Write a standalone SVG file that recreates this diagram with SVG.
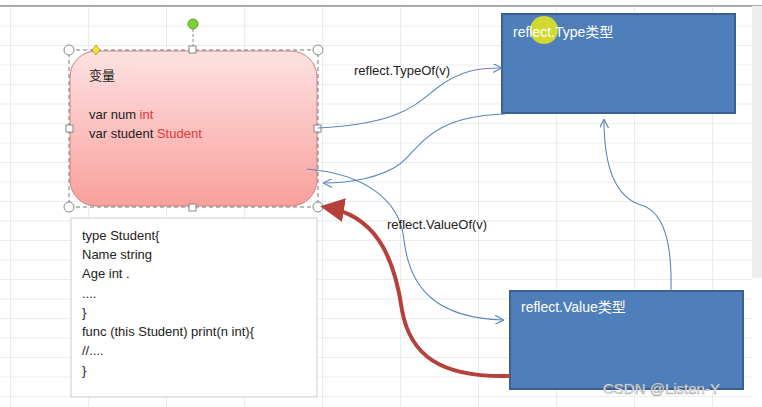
<svg xmlns="http://www.w3.org/2000/svg" width="762" height="407" viewBox="0 0 762 407">
<defs>
<linearGradient id="pk" x1="0" y1="0" x2="0" y2="1"><stop offset="0" stop-color="#fde2e2"/><stop offset="1" stop-color="#f9a09c"/></linearGradient>
<marker id="a" viewBox="0 0 10 10" refX="9" refY="5" markerWidth="9" markerHeight="9" orient="auto" markerUnits="userSpaceOnUse"><path d="M0,0 L10,5 L0,10" fill="none" stroke="#5b86bd" stroke-width="1.3"/></marker>
<marker id="r" viewBox="0 0 10 10" refX="8" refY="5" markerWidth="6" markerHeight="6" orient="auto"><path d="M0,0 L10,5 L0,10 Z" fill="#b5403c"/></marker>
<pattern id="g" width="78" height="19.5" patternUnits="userSpaceOnUse" x="10" y="6"><path d="M0,0 V19.5 M0,0 H78" fill="none" stroke="#d9d9d9" stroke-width="1"/></pattern>
</defs>
<style>
.t{font-family:"Liberation Sans",Arial,"Noto Sans CJK SC",sans-serif;font-size:13px;fill:#222}
.w{font-family:"Liberation Sans",Arial,"Noto Sans CJK SC",sans-serif;font-size:14px;fill:#fff}
.c{fill:none;stroke:#5b86bd;stroke-width:1.1}
.box{fill:#4f7fba;stroke:#3b5f8f;stroke-width:2}
.h{fill:#fff;stroke:#888;stroke-width:1}
</style>
<rect width="762" height="407" fill="#fff"/>
<rect x="0" y="6" width="752" height="401" fill="url(#g)"/>
<line x1="0" y1="6" x2="762" y2="6" stroke="#aaa" stroke-width="2"/>
<rect x="752" y="6" width="10" height="272" fill="#eee"/>
<g id="sticky"><rect x="71" y="218" width="246" height="179" fill="#fff" stroke="#ccc"/>
<text class="t" x="82" y="240">type  Student{</text>
<text class="t" x="82" y="259">Name string</text>
<text class="t" x="82" y="278">Age int .</text>
<text class="t" x="82" y="298">....</text>
<text class="t" x="82" y="317">}</text>
<text class="t" x="82" y="336">func  (this Student)  print(n int){</text>
<text class="t" x="82" y="355">//....</text>
<text class="t" x="82" y="375">}</text></g>
<g id="var">
<rect x="70" y="51" width="247" height="155" rx="26" fill="url(#pk)" stroke="#d08080"/>
<text class="t" x="89" y="80" font-size="15">变量</text>
<text class="t" x="89" y="119">var num <tspan fill="#e0383a">int</tspan></text>
<text class="t" x="89" y="138">var student <tspan fill="#e0383a">Student</tspan></text>
<rect x="69" y="50" width="249" height="157" fill="none" stroke="#777" stroke-dasharray="4,3"/>
<line x1="193" y1="24" x2="193" y2="50" stroke="#888" stroke-dasharray="3,2"/>
<circle cx="193" cy="24" r="5" fill="#7dd23a" stroke="#5a9a2a"/>
<circle cx="69" cy="50" r="5" class="h"/><circle cx="318" cy="50" r="5" class="h"/>
<circle cx="69" cy="207" r="5" class="h"/><circle cx="318" cy="207" r="5" class="h"/>
<rect x="189" y="46" width="7" height="7" class="h"/><rect x="189" y="204" width="7" height="7" class="h"/>
<rect x="66" y="125" width="7" height="7" class="h"/><rect x="314" y="125" width="7" height="7" class="h"/>
<path d="M96,45 L100,50 L96,55 L92,50Z" fill="#f4e43a" stroke="#b8a820"/>
</g>
<g id="type"><rect x="502" y="14" width="233" height="99" class="box"/>
<circle cx="544" cy="30" r="14" fill="#e8e81a" opacity="0.85"/>
<text class="w" x="513" y="37">reflect.Type类型</text></g>
<g id="value"><rect x="510" y="291" width="233" height="98" class="box"/>
<text class="w" x="521" y="312">reflect.Value类型</text></g>
<g id="connectors">
<path class="c" d="M318,128 C400,124 415,105 437,88 C460,70 480,68 501,68" marker-end="url(#a)"/>
<path class="c" d="M505,114 C430,116 420,148 400,164 C380,178 350,183 324,183" marker-end="url(#a)"/>
<path class="c" d="M307,169 C365,174 400,200 404,240 C410,292 440,318 503,320" marker-end="url(#a)"/>
<path class="c" d="M671,291 C672,245 665,212 641,205 C612,196 604,160 604,120" marker-end="url(#a)"/>
<path d="M510,376 C440,378 410,355 402,310 C394,255 375,215 325,207" fill="none" stroke="#b5403c" stroke-width="4" marker-end="url(#r)"/>
<text class="t" x="354" y="75">reflect.TypeOf(v)</text>
<text class="t" x="387" y="229">reflect.ValueOf(v)</text>
</g>
<text x="603" y="394" font-family="Liberation Sans,sans-serif" font-size="15" fill="#fff" stroke="#999" stroke-width="0.5">CSDN @Listen-Y</text>
</svg>
